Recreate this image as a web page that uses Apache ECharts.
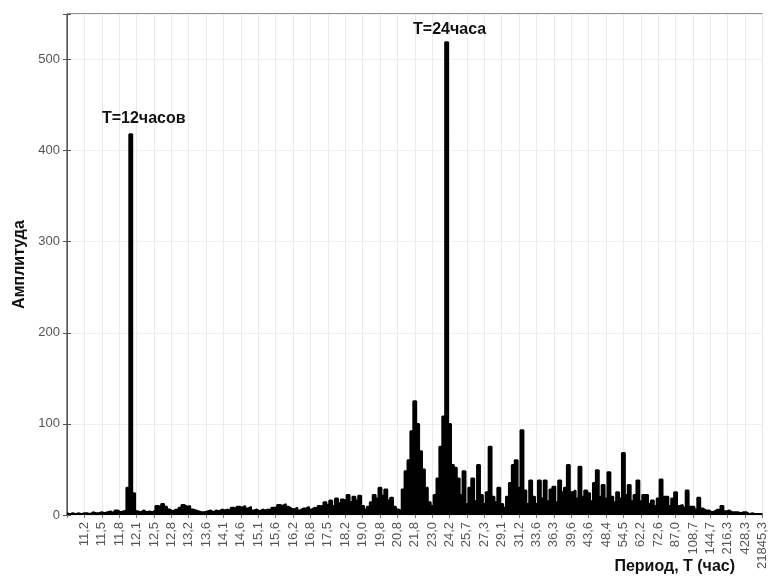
<!DOCTYPE html>
<html>
<head>
<meta charset="utf-8">
<script src="https://cdn.jsdelivr.net/npm/echarts@6/dist/echarts.min.js"></script>
<style>
html,body{margin:0;padding:0;background:#fff;}
#chart{width:769px;height:580px;}
</style>
</head>
<body>
<div id="chart"></div>
<script>
// Period tick labels (hours), one every 6 data points
const tickLabels = ['11,2','11,5','11,8','12,1','12,5','12,8','13,2','13,6','14,1','14,6','15,1','15,6','16,2','16,8','17,5','18,2','19,0','19,8','20,8','21,8','23,0','24,2','25,7','27,3','29,1','31,2','33,6','36,3','39,6','43,6','48,4','54,5','62,2','72,6','87,0','108,7','144,7','216,3','428,3','21845,3'];
const pointsPerTick = 6;

// Amplitude values, left (short periods) to right (long periods)
const ampShort = [2,1,2,1,2,1, 2,2,1,3,2,2, 3,2,3,4,2,5, 3,4,5,30,418,24, 4,3,5,3,4,3, 5,10,8,12,9,6, 4,6,5,8,11,9, 10,6,5,4,3,3, 4,5,3,5,4,6, 5,6,4,8,6,9];
const ampMid = [8,10,7,9,5,6, 4,6,5,6,5,8, 8,11,10,12,9,7, 6,8,5,7,7,9, 6,8,7,10,9,14, 11,16,10,18,13,17, 15,22,14,20,16,21, 10,6,9,14,22,18, 30,21,28,16,19,9, 6,4,28,48,60,92];
const ampDaily = [125,100,70,50,30,14, 10,22,40,75,108,519, 100,55,52,40,22,48, 12,30,40,15,55,22, 12,25,75,20,14,30, 12,8,20,35,55,60, 30,93,27,12,38,20, 12,38,18,38,15,28, 31,14,38,25,30,55, 25,27,18,53,20,27];
const ampLong = [24,15,35,49,20,33, 18,47,20,14,25,18, 68,22,33,15,22,38, 15,22,22,12,16,10, 18,39,20,20,10,18, 25,10,11,8,27,9, 9,6,19,7,5,5, 3,4,6,5,10,4, 5,3,3,3,2,3, 3,1,2,1,1,1, 1];

const peakNotes = [
  {index: 22, text: 'T=12часов'},
  {index: 131, text: 'T=24часа'}
];

const amplitude = ampShort.concat(ampMid, ampDaily, ampLong);
const nPoints = amplitude.length - 1;
const seriesData = amplitude.map((v, i) => [i, v]);

const FONT = '"Liberation Sans", Arial, sans-serif';
const chart = echarts.init(document.getElementById('chart'), null, {renderer: 'canvas'});

const option = {
  animation: false,
  backgroundColor: '#fff',
  grid: {left: 67, right: 6, top: 14, bottom: 65, show: true, borderColor: '#222', borderWidth: 1, backgroundColor: 'transparent'},
  xAxis: [
    {
      type: 'value', min: 0, max: nPoints, interval: pointsPerTick,
      axisLine: {show: false},
      axisTick: {show: false},
      splitLine: {show: true, lineStyle: {color: '#ebebeb', width: 1}},
      axisLabel: {
        rotate: 90, margin: 7, color: '#555', fontSize: 13, fontFamily: FONT,
        showMinLabel: true, showMaxLabel: true,
        formatter: v => { const k = Math.round(v / pointsPerTick) - 1; return k >= 0 ? tickLabels[k] : ''; }
      }
    },
    {
      type: 'value', position: 'top', min: 0, max: nPoints, interval: pointsPerTick,
      axisLine: {show: false},
      axisTick: {show: true, inside: true, length: 3, lineStyle: {color: '#777'}},
      axisLabel: {show: false},
      splitLine: {show: false}
    }
  ],
  yAxis: [
    {
      type: 'value', min: 0, max: 550, interval: 100,
      axisLine: {show: true, lineStyle: {color: '#555'}},
      axisTick: {show: true, inside: true, length: 4, lineStyle: {color: '#555'}},
      splitLine: {show: true, lineStyle: {color: '#f1f1f1'}},
      axisLabel: {color: '#555', fontSize: 13, fontFamily: FONT, margin: 7, formatter: v => (v % 100 === 0 ? String(v) : '')},
      name: 'Амплитуда', nameLocation: 'middle', nameGap: 35,
      nameTextStyle: {fontWeight: 'bold', fontSize: 16, color: '#111', fontFamily: FONT}
    },
    {
      type: 'value', position: 'right', min: 0, max: 550, interval: 100,
      axisLine: {show: false},
      axisTick: {show: true, inside: true, length: 4, lineStyle: {color: '#555'}},
      axisLabel: {show: false},
      splitLine: {show: false}
    }
  ],
  series: [{
    type: 'line',
    data: seriesData,
    symbol: 'none',
    step: 'middle',
    xAxisIndex: 0, yAxisIndex: 0,
    lineStyle: {color: '#000', width: 2},
    areaStyle: {color: '#000', opacity: 1},
    z: 3,
    markPoint: {
      symbol: 'circle', symbolSize: 1,
      itemStyle: {color: 'rgba(0,0,0,0)'},
      label: {show: true, position: 'top', fontWeight: 'bold', fontSize: 16, color: '#111', fontFamily: FONT},
      data: peakNotes.map((p, j) => ({
        coord: [p.index, amplitude[p.index]],
        label: {formatter: p.text, offset: j === 0 ? [13, -2] : [3, 1]}
      }))
    }
  }],
  graphic: [{
    type: 'text', right: 34, top: 559,
    style: {text: 'Период, Т (час)', font: 'bold 16px ' + FONT, fill: '#111'}
  }]
};
chart.setOption(option);
</script>
</body>
</html>
